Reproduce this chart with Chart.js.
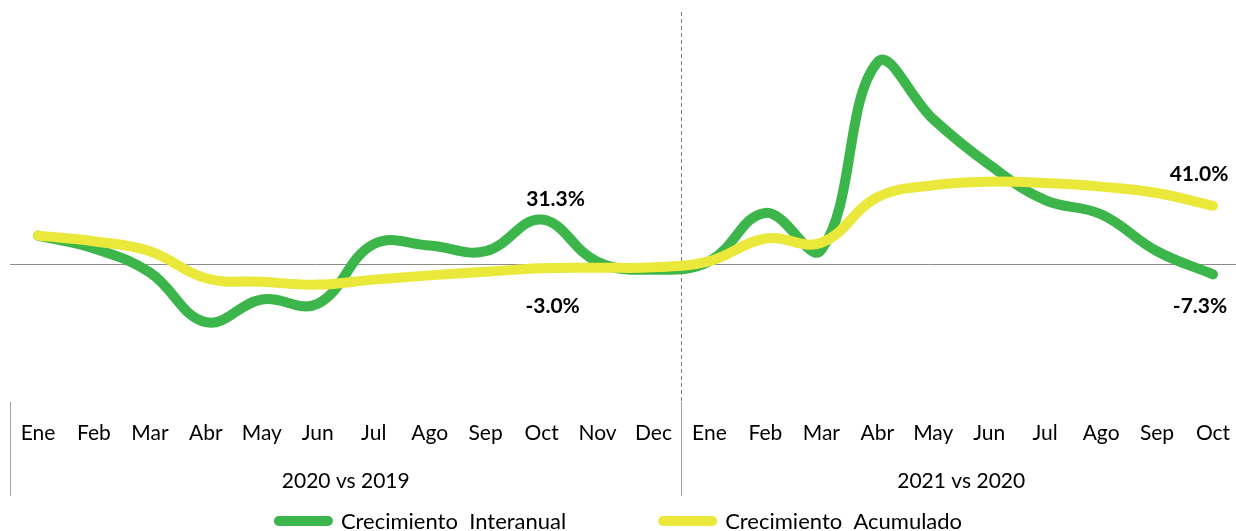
<!DOCTYPE html>
<html>
<head>
<meta charset="utf-8">
<script src="https://cdn.jsdelivr.net/npm/chart.js@4.4.0/dist/chart.umd.min.js"></script>
<style>
  html, body { margin: 0; padding: 0; background: #fff; }
  #wrap { width: 1236px; height: 531px; }
</style>
</head>
<body>
<div id="wrap"><canvas id="chart" width="1236" height="531"></canvas></div>
<script>
// months of both periods, grouped below the axis
const months = ['Ene', 'Feb', 'Mar', 'Abr', 'May', 'Jun', 'Jul', 'Ago', 'Sep', 'Oct', 'Nov', 'Dec',
  'Ene', 'Feb', 'Mar', 'Abr', 'May', 'Jun', 'Jul', 'Ago', 'Sep', 'Oct'];
const groupLabels = ['2020 vs 2019', '2021 vs 2020'];
const groupSizes = [12, 10];

const interanual = [20, 11, -6, -41, -25, -28, 14, 13, 9, 31.3, 1.5, -4,
  2, 36, 10, 142, 102, 70, 45, 35, 9, -7.3];
const acumulado = [20, 16, 9, -10, -12.5, -14.5, -11, -8, -5.5, -3.0, -2.6, -2.3,
  2, 18, 15, 47, 55.5, 58, 57, 54.5, 50, 41.0];

// which points get a value label
const labelIdx = [9, 21];

const GREEN = '#3cb54a';
const YELLOW = '#eae83a';
const FONT = 'Lato, "Open Sans", sans-serif';

// label offsets per dataset / label index (px)
const labelOffsets = {
  0: { 9: [14, -20], 21: [-13, 32] },
  1: { 9: [11, 38], 21: [-14, -32] }
};

const decor = {
  id: 'decor',
  beforeDatasetsDraw(chart) {
    const { ctx, scales: { x, y } } = chart;
    const step = x.getPixelForValue(1) - x.getPixelForValue(0);
    const left = x.getPixelForValue(0) - step / 2;
    ctx.save();
    // zero line
    ctx.strokeStyle = '#8c8c8c';
    ctx.lineWidth = 1;
    const y0 = Math.round(y.getPixelForValue(0)) + 0.5;
    ctx.beginPath();
    ctx.moveTo(left, y0);
    ctx.lineTo(chart.width, y0);
    ctx.stroke();
    // dashed separator between the periods
    const sx = Math.round((x.getPixelForValue(groupSizes[0] - 1) + x.getPixelForValue(groupSizes[0])) / 2) + 0.5;
    ctx.setLineDash([4, 3]);
    ctx.strokeStyle = '#808080';
    ctx.beginPath();
    ctx.moveTo(sx, chart.chartArea.top);
    ctx.lineTo(sx, chart.chartArea.bottom + 4);
    ctx.stroke();
    ctx.restore();
  },
  afterDraw(chart) {
    const { ctx, scales: { x } } = chart;
    const step = x.getPixelForValue(1) - x.getPixelForValue(0);
    const bottom = chart.chartArea.bottom;
    ctx.save();
    // group divider lines and group labels
    ctx.strokeStyle = '#a0a0a0';
    ctx.lineWidth = 1;
    let start = 0;
    ctx.font = '21px ' + FONT;
    ctx.fillStyle = '#000';
    ctx.textAlign = 'center';
    ctx.textBaseline = 'middle';
    groupSizes.forEach((n, g) => {
      const lx = Math.round(x.getPixelForValue(start) - step / 2) + 0.5;
      ctx.beginPath();
      ctx.moveTo(lx, bottom - 4);
      ctx.lineTo(lx, bottom + 90);
      ctx.stroke();
      const cx = (x.getPixelForValue(start) + x.getPixelForValue(start + n - 1)) / 2;
      ctx.fillText(groupLabels[g], cx, bottom + 75);
      start += n;
    });

    // value labels
    ctx.font = 'bold 21px ' + FONT;
    chart.data.datasets.forEach((ds, di) => {
      const meta = chart.getDatasetMeta(di);
      labelIdx.forEach(i => {
        const pt = meta.data[i];
        const off = labelOffsets[di][i];
        ctx.fillText(ds.data[i].toFixed(1) + '%', pt.x + off[0], pt.y + off[1]);
      });
    });

    // legend
    ctx.font = '22px ' + FONT;
    const boxW = 59, boxH = 10, gapText = 8, gapItem = 92;
    const items = chart.data.datasets.map(ds => ({ text: ds.label, color: ds.borderColor, w: ctx.measureText(ds.label).width }));
    let total = 0;
    items.forEach((it, k) => { total += boxW + gapText + it.w + (k ? gapItem : 0); });
    let lx = (chart.width - total) / 2;
    const ly = 521;
    ctx.textAlign = 'left';
    items.forEach(it => {
      ctx.fillStyle = it.color;
      ctx.beginPath();
      ctx.roundRect(lx, ly - boxH / 2, boxW, boxH, boxH / 2);
      ctx.fill();
      ctx.fillStyle = '#000';
      ctx.fillText(it.text, lx + boxW + gapText, ly + 1);
      lx += boxW + gapText + it.w + gapItem;
    });
    ctx.restore();
  }
};

new Chart(document.getElementById('chart'), {
  type: 'line',
  data: {
    labels: months,
    datasets: [
      {
        label: 'Crecimiento  Interanual',
        data: interanual,
        borderColor: GREEN,
        backgroundColor: GREEN,
        borderWidth: 10,
        tension: 0.4,
        pointRadius: 0,
        borderCapStyle: 'round',
        borderJoinStyle: 'round',
        clip: false,
        order: 1
      },
      {
        label: 'Crecimiento  Acumulado',
        data: acumulado,
        borderColor: YELLOW,
        backgroundColor: YELLOW,
        borderWidth: 10,
        tension: 0.4,
        pointRadius: 0,
        borderCapStyle: 'round',
        borderJoinStyle: 'round',
        clip: false,
        order: 0
      }
    ]
  },
  options: {
    responsive: false,
    animation: false,
    layout: { padding: { top: 12, left: 38, right: 23, bottom: 35 } },
    plugins: {
      legend: { display: false },
      tooltip: { enabled: false }
    },
    scales: {
      x: {
        offset: false,
        grid: { display: false, drawTicks: false },
        border: { display: false },
        ticks: {
          autoSkip: false,
          maxRotation: 0,
          padding: 15,
          color: '#000',
          font: { family: FONT, size: 21 }
        },
        afterFit(scale) {
          scale.height = 90;
          scale.paddingLeft = 0;
          scale.paddingRight = 0;
        }
      },
      y: {
        display: false,
        min: -100,
        max: 177.5
      }
    }
  },
  plugins: [decor]
});
</script>
</body>
</html>
